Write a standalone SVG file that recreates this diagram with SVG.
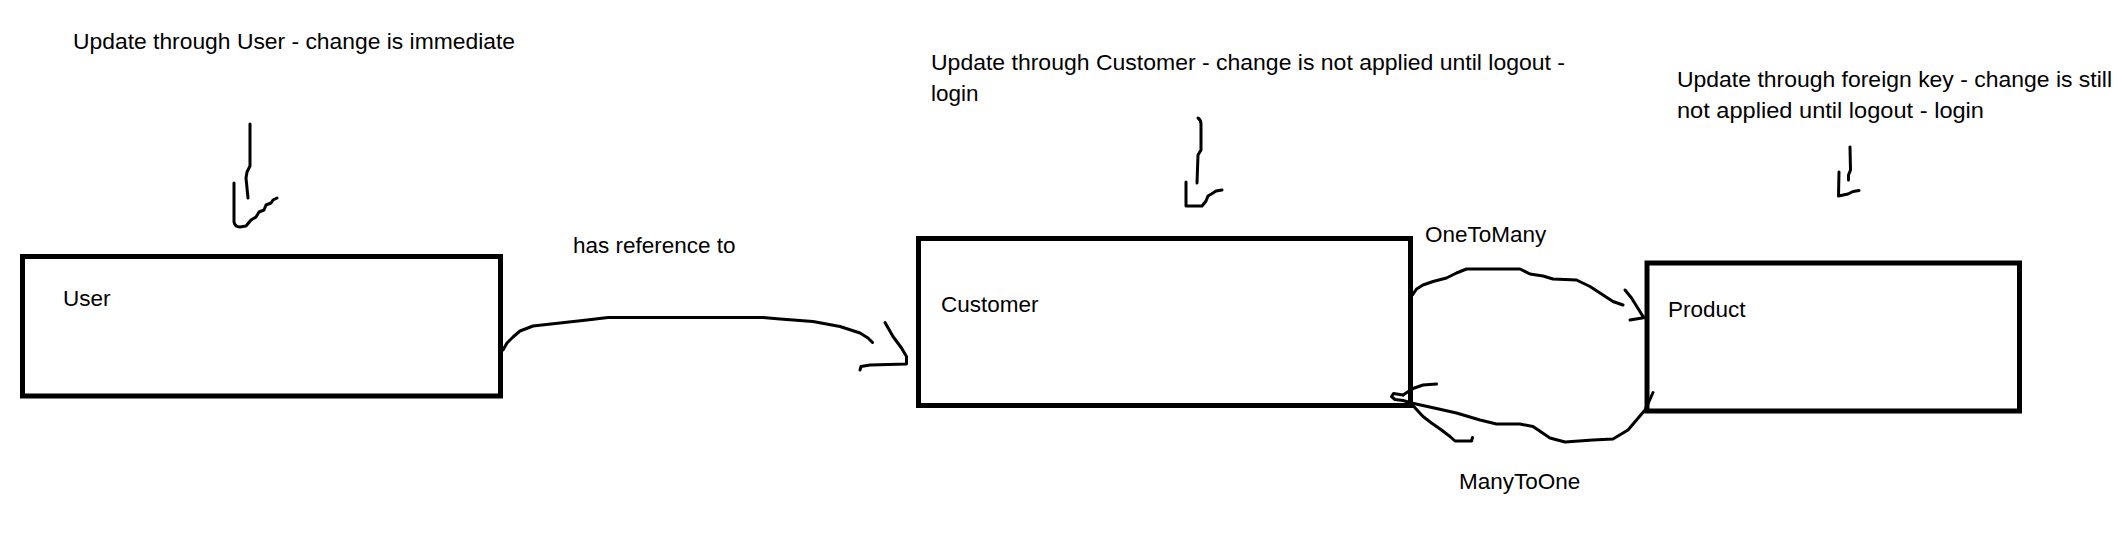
<svg xmlns="http://www.w3.org/2000/svg" width="2123" height="537" viewBox="0 0 2123 537">
<style>
.bg{fill:#ffffff}
.box{fill:none;stroke:#000;stroke-width:5}
.ink{fill:none;stroke:#000;stroke-width:3;stroke-linecap:round;stroke-linejoin:round}
.t{font-family:"Liberation Sans",Arial,sans-serif;font-size:22.5px;fill:#000}
</style>
<rect class="bg" x="0" y="0" width="2123" height="537"/>
<g id="note-user">
<text class="t" x="73" y="49" textLength="442" lengthAdjust="spacingAndGlyphs">Update through User - change is immediate</text>
</g>
<g id="note-customer">
<text class="t" x="931" y="70" textLength="634" lengthAdjust="spacingAndGlyphs">Update through Customer - change is not applied until logout -</text>
<text class="t" x="931" y="100.5">login</text>
</g>
<g id="note-product">
<text class="t" x="1677" y="87" textLength="435" lengthAdjust="spacingAndGlyphs">Update through foreign key - change is still</text>
<text class="t" x="1677" y="118" textLength="307" lengthAdjust="spacingAndGlyphs">not applied until logout - login</text>
</g>
<g id="user">
<rect class="box" x="22.5" y="256.5" width="478" height="139.5"/>
<text class="t" x="63" y="306">User</text>
</g>
<g id="customer">
<rect class="box" x="918.5" y="238.5" width="492" height="167"/>
<text class="t" x="941" y="312">Customer</text>
</g>
<g id="product">
<rect class="box" x="1647" y="263" width="372.5" height="148"/>
<text class="t" x="1668" y="317">Product</text>
</g>
<g id="connectors">
<path class="ink" d="M250,124 L250,166 L247,172 L246,178 L248,198"/>
<path class="ink" d="M234,183 L234,222 Q235,227 240,227 L246,226 L251,220 L256,217 L259,212 L264,210 L266,205 L271,203 L273,200 L277,198"/>
<path class="ink" d="M1198,118 Q1201,120 1201,124 L1201,150 L1198,155 L1197,183"/>
<path class="ink" d="M1186,182 L1186,206 L1202,206 L1206,201 L1208,196 L1213,193 L1216,191 L1222,190"/>
<path class="ink" d="M1850,147 L1850.5,170 L1848.5,175 L1848.5,180"/>
<path class="ink" d="M1839,172 L1838.5,196 L1848,194 L1853,191.5 L1859,190.5"/>
<path class="ink" d="M503,350 L507,343 L513,337 L520,331 L533,326 L560,323 L587,320 L608,317.5 L763,317.5 L780,319 L813,321.5 L840,326.5 L860,333 L868,338 L872.5,342.5"/>
<path class="ink" d="M885,322.5 L893,336.5 L901.5,348 L906.5,356.5 L906.5,364 L870,365 L861,366.5 L860,370"/>
<text class="t" x="573" y="253">has reference to</text>
<path class="ink" d="M1412.5,295 L1416.5,289 L1423,285 L1433,281.5 L1446.5,278 L1456.5,273 L1466.5,269 L1520,269 L1530,274 L1543,276 L1553,279 L1576.5,280 L1590,286.5 L1601.5,294 L1613,301.5 L1623,305"/>
<path class="ink" d="M1625,290 L1631.5,298 L1636.5,306 L1643,316.5 L1645,317.5 L1630,320"/>
<text class="t" x="1425" y="242">OneToMany</text>
<path class="ink" d="M1653,392.5 L1649,401.5 L1645,410 L1636.5,420 L1628,430 L1613,439 L1593,440 L1565,442 L1550,438 L1533,426.5 L1520,424 L1496.5,424 L1480,420 L1456.5,413 L1436.5,408.5 L1411.5,403"/>
<path class="ink" d="M1411.5,403 L1403,400.5 L1395,399.5 L1391.5,396.5 L1393.5,393.5 L1403,395"/>
<path class="ink" d="M1403,395 L1413,388.5 L1423,385 L1436.5,384"/>
<path class="ink" d="M1411.5,404 L1423,416.5 L1431.5,423 L1441.5,430 L1450,436.5 L1455,441 L1471.5,441 L1472.5,437.5"/>
<text class="t" x="1459" y="489">ManyToOne</text>
</g>
</svg>
